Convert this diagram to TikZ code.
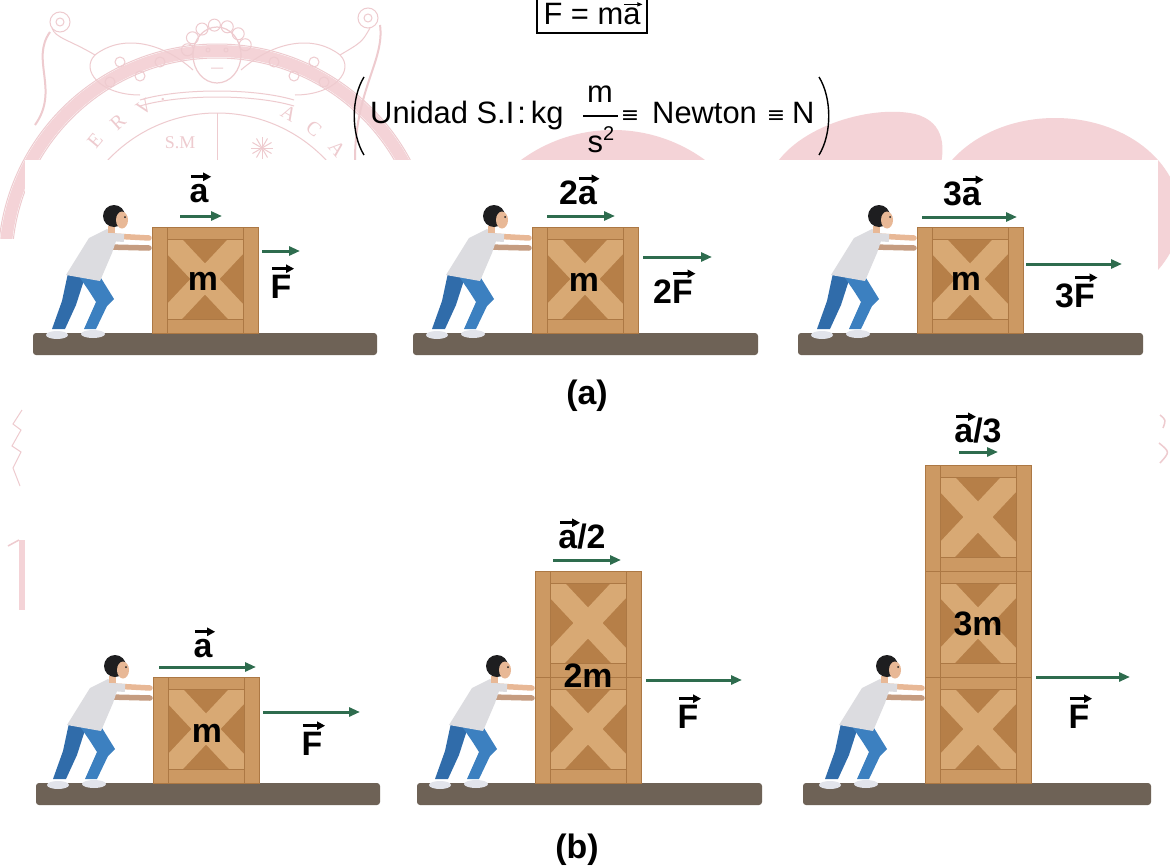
\documentclass[tikz,border=0pt]{standalone}
\usepackage{fontspec}
\setmainfont{Liberation Sans}
\newfontfamily\wmserif{Liberation Serif}
\newfontfamily\symfont{DejaVu Sans}
\usetikzlibrary{arrows.meta}

\definecolor{wmline}{RGB}{238,203,207}
\definecolor{wmfill}{RGB}{244,211,215}
\definecolor{ground}{RGB}{110,98,86}
\definecolor{woodframe}{RGB}{204,153,99}
\definecolor{woodedge}{RGB}{172,120,68}
\definecolor{woodpanel}{RGB}{182,127,72}
\definecolor{woodx}{RGB}{216,169,116}
\definecolor{pushgreen}{RGB}{46,108,78}
\definecolor{shirt}{RGB}{220,220,224}
\definecolor{jeans}{RGB}{60,128,192}
\definecolor{jeansdark}{RGB}{48,108,170}
\definecolor{skin}{RGB}{232,184,150}
\definecolor{hair}{RGB}{30,30,32}
\definecolor{shoe}{RGB}{226,228,235}

% arrow drawn above a single letter
\newsavebox\vecletter
\newlength\vecw
\newlength\vech
\newcommand\vecover[3]{%
  \sbox\vecletter{#3}\setlength\vecw{\wd\vecletter}\setlength\vech{\ht\vecletter}%
  \rlap{\raisebox{\dimexpr\vech+#2\relax}{\tikz[baseline=0pt]\draw[#1] (0.5pt,0pt)--(\vecw+2pt,0pt);}}%
  \usebox\vecletter}

\tikzset{
  vecbold/.style={line width=2.6bp,-{Triangle[length=8bp,width=8bp]}},
  vecthin/.style={line width=1bp,-{Triangle[length=5bp,width=4bp]}},
  eqtext/.style={font=\fontsize{31}{36}\selectfont, inner sep=0pt},
  lbl/.style={font=\fontsize{34}{40}\selectfont\bfseries, inner sep=0pt, anchor=base},
  wmtext/.style={text=wmline, font=\wmserif\fontsize{20}{20}\selectfont, inner sep=0pt},
  wmstroke/.style={draw=wmline, line width=1bp},
  pusharrow/.style={draw=pushgreen, line width=3bp, -{Triangle[length=11bp,width=9bp]}},
  groundbar/.style={fill=ground, rounded corners=3bp},
  crateunit/.pic={
    \fill[woodframe] (0,0) rectangle (106,-106);
    \fill[woodpanel] (15,-14) rectangle (91,-94);
    \begin{scope}
      \clip (15,-14) rectangle (91,-94);
      \fill[woodx] (15,-14) -- (30,-14) -- (91,-79) -- (91,-94) -- (76,-94) -- (15,-29) -- cycle;
      \fill[woodx] (91,-14) -- (76,-14) -- (15,-79) -- (15,-94) -- (30,-94) -- (91,-29) -- cycle;
    \end{scope}
    \draw[woodedge, line width=0.8bp] (0,0) rectangle (106,-106);
    \draw[woodedge, line width=0.8bp] (15,0) -- (15,-106) (91,0) -- (91,-106)
      (15,-14) -- (91,-14) (15,-94) -- (91,-94);
  },
  crate/.pic={
    \foreach \k in {1,...,#1} { \pic at (0,{-(\k-1)*106}) {crateunit}; }
  },
  pusher/.pic={
    % legs and shoes
    \fill[jeansdark] (-84,-60) -- (-67,-56) -- (-76,-28) -- (-87,-4) -- (-100,-4) -- (-90,-32) -- cycle;
    \fill[shoe] (-95,2) ellipse[x radius=11, y radius=4];
    \fill[jeans] (-74,-58) -- (-51,-55) -- (-38,-34) -- (-45,-27) -- (-56,-4) -- (-68,-4) -- (-56,-31) -- (-63,-42) -- cycle;
    \fill[shoe] (-59,1) ellipse[x radius=12, y radius=4];
    % arms reaching the crate
    \draw[skin, line width=5.5bp, line cap=round] (-40,-97) -- (-3,-95);
    \draw[skin!85!black, line width=5.5bp, line cap=round] (-44,-86) -- (-3,-85);
    % shirt
    \fill[shirt] (-86,-58) -- (-52,-52) -- (-40,-80) -- (-35,-95) -- (-45,-104) -- (-63,-95) -- cycle;
    \draw[shirt, line width=8bp] (-42,-96) -- (-28,-95);
    % neck and head
    \fill[skin] (-44,-107) rectangle (-37,-100);
    \fill[hair] (-38,-117) circle[radius=11];
    \fill[skin] (-30,-113) ellipse[x radius=6, y radius=8.5];
    \fill[hair] (-27,-116) circle[radius=1];
  }
}

\begin{document}
\begin{tikzpicture}[x=1bp,y=-1bp]
\useasboundingbox (0,0) rectangle (1170,868);
\clip (0,0) rectangle (1170,868);
\fill[white] (0,0) rectangle (1170,868);

% ---- faint seal in the background ----
\fill[wmfill] (613,286) circle[radius=156];
\fill[wmfill] (770,175) .. controls (790,128) and (870,104) .. (915,114) .. controls (946,122) and (946,150) .. (938,175) -- cycle;
\fill[wmfill] (1055,215) ellipse[x radius=125, y radius=97];

\begin{scope}
  \clip (0,0) rectangle (420,238);
  \draw[wmfill, line width=12bp] (217,263) circle[radius=212];
  \draw[wmstroke] (217,263) circle[radius=205];
  \draw[wmstroke] (217,263) circle[radius=219];
  \draw[wmstroke] (217,263) circle[radius=150];
\end{scope}
\draw[wmstroke] (217,113) -- (217,160);
\node[wmtext, rotate=50] (wm-e) at (95,141) {E};
\node[wmtext, rotate=42] (wm-r) at (118,122) {R};
\node[wmtext, rotate=34] (wm-v) at (144,107) {V};
\node[wmtext, rotate=28] (wm-dot) at (163,100) {.};
\node[wmtext, rotate=-30] (wm-a1) at (289,113) {A};
\node[wmtext, rotate=-40] (wm-c) at (314,129) {C};
\node[wmtext, rotate=-50] (wm-a2) at (337,149) {A};
\node[wmtext, font=\wmserif\fontsize{18}{18}\selectfont] (wm-sm) at (180,143) {S.M};
\foreach \t in {0,30,...,330} \draw[wmstroke] (262,148) -- ++(\t:11);

% cherub, wings and scrolls
\draw[wmstroke, line width=1.2bp] (217,55) ellipse[x radius=24, y radius=28];
\foreach \t in {190,215,...,350} \draw[wmstroke] (217,55) ++(\t:30) circle[radius=6];
\draw[wmstroke] (208,50) circle[radius=2] (226,50) circle[radius=2] (211,68) -- (223,68);
\draw[wmstroke] (193,70) .. controls (160,40) and (120,35) .. (95,55) .. controls (80,70) and (100,95) .. (140,95);
\draw[wmstroke] (241,70) .. controls (275,40) and (315,35) .. (340,55) .. controls (355,70) and (335,95) .. (295,95);
\foreach \p in {(120,62),(140,76),(160,62),(110,82),(314,62),(294,76),(274,62),(324,82)}
  \draw[wmstroke] \p circle[radius=5];
\draw[wmstroke] (95,55) .. controls (70,40) and (55,38) .. (52,28);
\draw[wmstroke] (60,22) circle[radius=10] (60,22) circle[radius=4];
\draw[wmstroke] (340,55) .. controls (362,42) .. (370,28);
\draw[wmstroke] (368,18) circle[radius=10] (368,18) circle[radius=4];
\draw[wmstroke, line width=2bp] (380,25) .. controls (385,60) and (355,90) .. (355,160);
\draw[wmstroke, line width=2bp] (50,32) .. controls (30,60) and (60,90) .. (35,125);
\draw[wmstroke] (140,100) .. controls (180,88) and (254,88) .. (294,100);
\draw[wmstroke] (140,106) .. controls (180,94) and (254,94) .. (294,106);

% side fragments
\draw[wmstroke] (22,410) -- (13,424) -- (21,430) -- (12,446) -- (21,452) -- (13,468) -- (20,486);
\fill[wmfill] (19,540) rectangle (25,610);
\draw[wmstroke, line width=1.5bp] (8,546) -- (19,540);
\draw[wmstroke, line width=1.5bp] (1160,415) .. controls (1166,420) .. (1163,428);
\draw[wmstroke, line width=1.5bp] (1159,443) .. controls (1170,452) .. (1160,463);

% ---- white panel ----
\fill[white] (25,160) rectangle (1158,868);

% ---- formula ----
\node[eqtext, anchor=base] (fma) at (592,24) {F = m\vecover{vecthin}{3bp}{a}};
\draw[line width=1.5bp] (537,-20) -- (537,33) -- (647,33) -- (647,-20);
\draw[line width=1.4bp] (364,77) .. controls (351,98) and (351,134) .. (364,155);
\draw[line width=1.4bp] (819,77) .. controls (832,98) and (832,134) .. (819,155);
\node[eqtext, anchor=base west] (unit) at (370,123) {Unidad S.I\kern3bp:\kern5bp kg};
\node[eqtext, anchor=base] (num) at (600,102) {m};
\node[eqtext, anchor=base] (den) at (601,152) {s\raisebox{12bp}{\fontsize{20}{20}\selectfont 2}};
\coordinate (barl) at (583,116);
\coordinate (barr) at (618,116);
\draw[line width=1.3bp] (barl) -- (barr);
\node[font=\symfont\fontsize{22}{22}\selectfont, inner sep=0pt] (eq1) at (630,117) {≡};
\node[eqtext, anchor=base west] (newton) at (652,123) {Newton};
\node[font=\symfont\fontsize{22}{22}\selectfont, inner sep=0pt] (eq2) at (776,117) {≡};
\node[eqtext, anchor=base west] (nn) at (792,123) {N};

% ---- row (a): same mass, growing force ----
\fill[groundbar] (33,333) rectangle (377,355);
\fill[groundbar] (413,333) rectangle (758,355);
\fill[groundbar] (798,333) rectangle (1143,355);
\pic at (152,333) {pusher};
\pic at (532,333) {pusher};
\pic at (917,333) {pusher};
\pic at (152,333) {crate=1};
\pic at (532,333) {crate=1};
\pic at (917,333) {crate=1};

\node[lbl] (m-a1) at (203,290) {m};
\node[lbl] (m-a2) at (584,291) {m};
\node[lbl] (m-a3) at (966,290) {m};

\coordinate (aa1s) at (180,216); \coordinate (aa1e) at (222,216);
\coordinate (aa2s) at (547,216); \coordinate (aa2e) at (615,216);
\coordinate (aa3s) at (922,217); \coordinate (aa3e) at (1017,217);
\draw[pusharrow] (aa1s) -- (aa1e);
\draw[pusharrow] (aa2s) -- (aa2e);
\draw[pusharrow] (aa3s) -- (aa3e);
\node[lbl] (la-a1) at (199,202) {\vecover{vecbold}{7bp}{a}};
\node[lbl] (la-a2) at (578,204) {2\vecover{vecbold}{7bp}{a}};
\node[lbl] (la-a3) at (962,205) {3\vecover{vecbold}{7bp}{a}};

\coordinate (fa1s) at (262,251); \coordinate (fa1e) at (300,251);
\coordinate (fa2s) at (643,257); \coordinate (fa2e) at (712,257);
\coordinate (fa3s) at (1026,264); \coordinate (fa3e) at (1122,264);
\draw[pusharrow] (fa1s) -- (fa1e);
\draw[pusharrow] (fa2s) -- (fa2e);
\draw[pusharrow] (fa3s) -- (fa3e);
\node[lbl] (lf-a1) at (281,298) {\vecover{vecbold}{6bp}{F}};
\node[lbl] (lf-a2) at (673,303) {2\vecover{vecbold}{6bp}{F}};
\node[lbl] (lf-a3) at (1075,307) {3\vecover{vecbold}{6bp}{F}};

\node[lbl, anchor=center] (cap-a) at (587,396) {(a)};

% ---- row (b): same force, growing mass ----
\fill[groundbar] (36,783) rectangle (380,805);
\fill[groundbar] (417,783) rectangle (762,805);
\fill[groundbar] (803,783) rectangle (1151,805);
\pic at (153,783) {pusher};
\pic at (535,783) {pusher};
\pic at (925,783) {pusher};
\pic at (153,783) {crate=1};
\pic at (535,783) {crate=2};
\pic at (925,783) {crate=3};

\node[lbl] (m-b1) at (207,742) {m};
\node[lbl] (m-b2) at (588,687) {2m};
\node[lbl] (m-b3) at (978,635) {3m};

\coordinate (ab1s) at (159,667); \coordinate (ab1e) at (256,667);
\coordinate (ab2s) at (553,560); \coordinate (ab2e) at (621,560);
\coordinate (ab3s) at (959,452); \coordinate (ab3e) at (998,452);
\draw[pusharrow] (ab1s) -- (ab1e);
\draw[pusharrow] (ab2s) -- (ab2e);
\draw[pusharrow] (ab3s) -- (ab3e);
\node[lbl] (la-b1) at (203,657) {\vecover{vecbold}{7bp}{a}};
\node[lbl] (la-b2) at (582,548) {\vecover{vecbold}{7bp}{a}/2};
\node[lbl] (la-b3) at (978,442) {\vecover{vecbold}{7bp}{a}/3};

\coordinate (fb1s) at (263,712); \coordinate (fb1e) at (360,712);
\coordinate (fb2s) at (646,680); \coordinate (fb2e) at (742,680);
\coordinate (fb3s) at (1036,677); \coordinate (fb3e) at (1130,677);
\draw[pusharrow] (fb1s) -- (fb1e);
\draw[pusharrow] (fb2s) -- (fb2e);
\draw[pusharrow] (fb3s) -- (fb3e);
\node[lbl] (lf-b1) at (312,755) {\vecover{vecbold}{6bp}{F}};
\node[lbl] (lf-b2) at (688,728) {\vecover{vecbold}{6bp}{F}};
\node[lbl] (lf-b3) at (1079,728) {\vecover{vecbold}{6bp}{F}};

\node[lbl, anchor=center] (cap-b) at (577,850) {(b)};
\end{tikzpicture}
\end{document}
